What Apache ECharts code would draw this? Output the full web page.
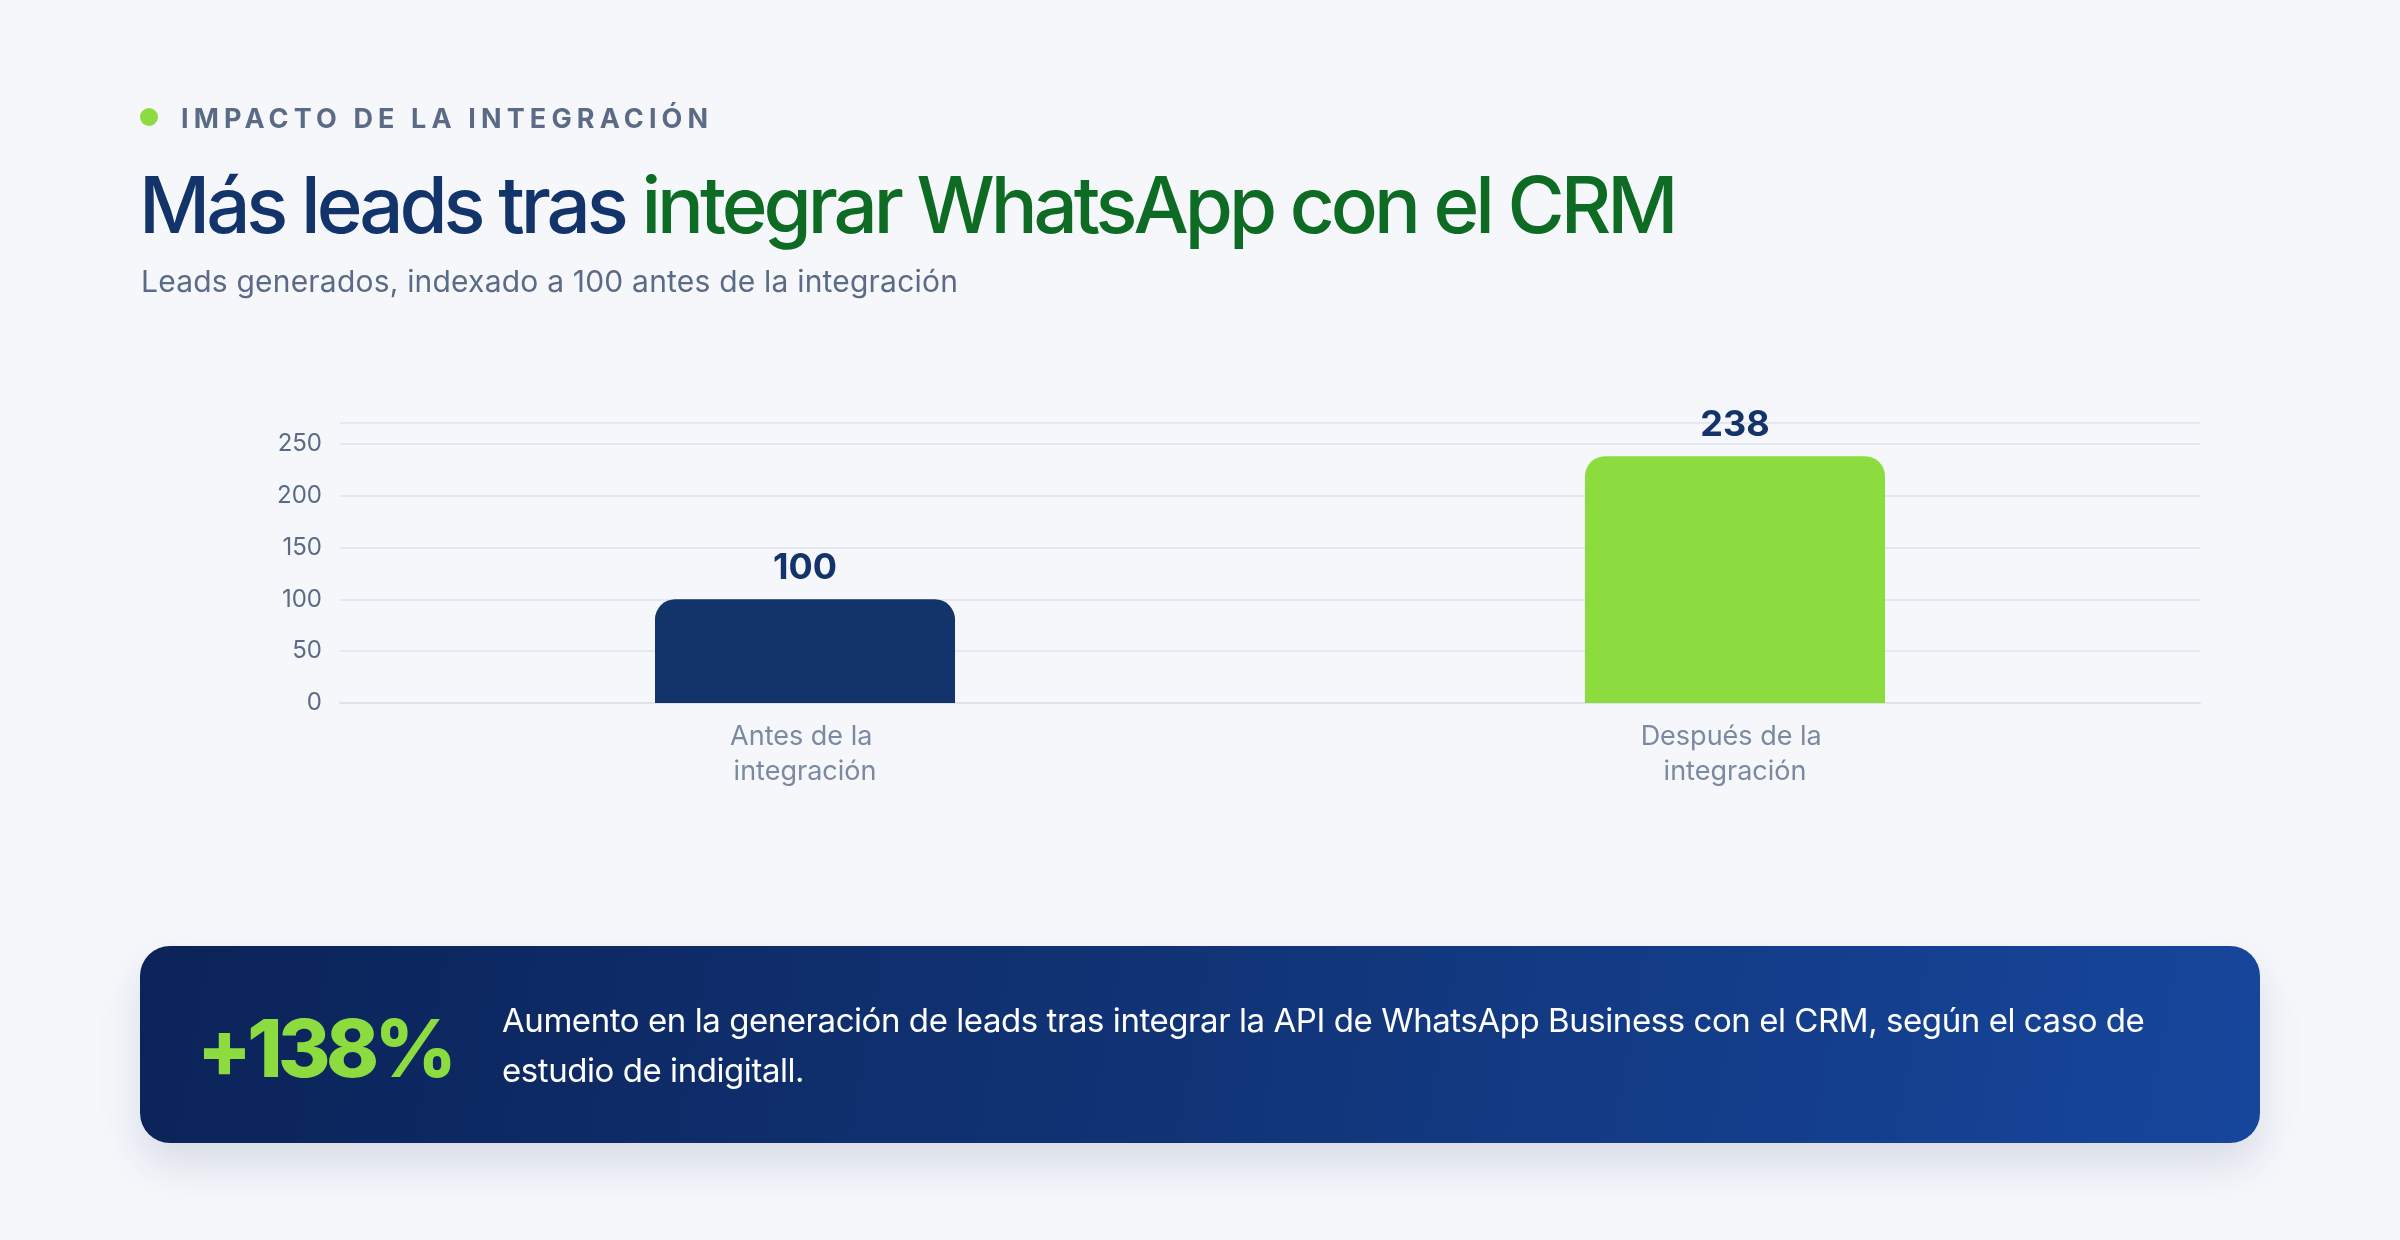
<!DOCTYPE html>
<html>
<head>
<meta charset="utf-8">
<script src="https://cdn.jsdelivr.net/npm/echarts@6/dist/echarts.min.js"></script>
<style>
  html, body { margin:0; padding:0; background:#f5f7fb; }
  body { width:2400px; height:1240px; position:relative; overflow:hidden; font-family: Inter, "Noto Sans", sans-serif; }
  #chart { position:absolute; left:0; top:0; width:2400px; height:1240px; }
  .abs { position:absolute; white-space:nowrap; }
  #dot { left:140px; top:108px; width:18px; height:18px; border-radius:50%; background:#8cdc40; }
  #eyebrow { left:181px; top:105px; font-size:27px; line-height:27px; font-weight:700; letter-spacing:0.19em; color:#5b6b86; }
  #title { left:139px; top:166px; font-size:78px; line-height:78px; font-weight:500; color:#13346b; letter-spacing:-0.052em; }
  #title .g { color:#0e6b23; }
  #subtitle { left:141px; top:266px; font-size:30px; line-height:30px; font-weight:400; color:#5b6b86; letter-spacing:0.2px; }
  #callout { left:140px; top:946px; width:2120px; height:197px; border-radius:30px;
    background:linear-gradient(100deg,#0b2358 0%,#113477 50%,#16469c 100%);
    box-shadow:0 22px 44px rgba(20,40,90,0.13); }
  #big { left:197px; top:1008px; font-size:80px; line-height:80px; font-weight:800; color:#8cdc40; letter-spacing:-0.057em; }
  #para { left:502px; top:995px; font-size:33px; line-height:50px; font-weight:400; color:#ffffff; letter-spacing:-0.44px; }
</style>
</head>
<body>
<div id="chart"></div>
<div class="abs" id="dot"></div>
<div class="abs" id="eyebrow">IMPACTO DE LA INTEGRACIÓN</div>
<div class="abs" id="title">Más leads tras <span class="g">integrar WhatsApp con el CRM</span></div>
<div class="abs" id="subtitle">Leads generados, indexado a 100 antes de la integración</div>
<div class="abs" id="callout"></div>
<div class="abs" id="big">+138%</div>
<div class="abs" id="para">Aumento en la generación de leads tras integrar la API de WhatsApp Business con el CRM, según el caso de<br>estudio de indigitall.</div>
<script>
const categories = ['Antes de la integración', 'Después de la integración'];
const leadsIndex = [100, 238];
const barColors = ['#13346b', '#8cdc40'];
const yTicks = [0, 50, 100, 150, 200, 250];

const chart = echarts.init(document.getElementById('chart'), null, { renderer: 'canvas' });
chart.setOption({
  backgroundColor: 'transparent',
  animation: false,
  textStyle: { fontFamily: 'Inter, "Noto Sans", sans-serif' },
  grid: { left: 340, right: 200, top: 423, bottom: 537, containLabel: false },
  xAxis: {
    type: 'category',
    data: categories,
    axisLine: { show: true, lineStyle: { color: '#dde3ec', width: 2 } },
    axisTick: { show: false },
    axisLabel: {
      color: '#7b89a1', fontSize: 27, lineHeight: 35, margin: 16,
      width: 210, overflow: 'break'
    }
  },
  yAxis: {
    type: 'value',
    min: yTicks[0],
    max: 270,
    interval: yTicks[1] - yTicks[0],
    axisLine: { show: false },
    axisTick: { show: false },
    axisLabel: { color: '#5b6b86', fontSize: 24, margin: 18, showMaxLabel: false },
    splitLine: { lineStyle: { color: '#e3e8f0', width: 2 } }
  },
  series: [{
    type: 'bar',
    barWidth: 300,
    data: leadsIndex.map((v, i) => ({ value: v, itemStyle: { color: barColors[i] } })),
    itemStyle: { borderRadius: [20, 20, 0, 0] },
    label: {
      show: true, position: 'top', distance: 13,
      color: '#13346b', fontSize: 36, fontWeight: 700
    }
  }]
});
</script>
</body>
</html>
